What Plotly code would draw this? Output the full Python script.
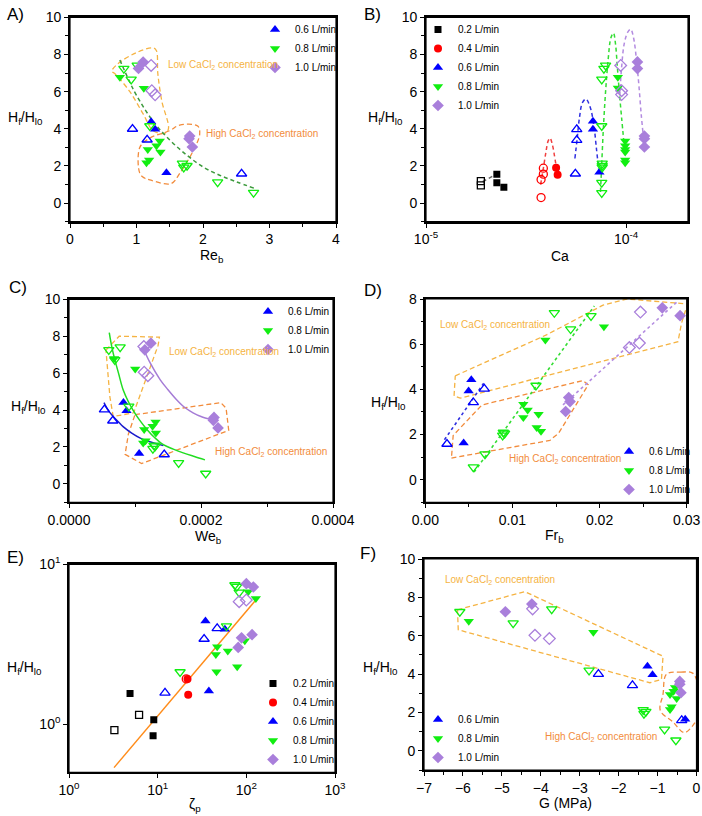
import plotly.graph_objects as go
import math

W, H = 702, 816

# ================= DATA =================
# ---- Panel A : Re_b ----
A_x_06f = [1.22, 1.28, 1.45]
A_y_06f = [4.38, 3.97, 1.63]
A_x_06o = [0.94, 1.16, 2.58]
A_y_06o = [3.99, 3.41, 1.58]
A_x_08f = [0.75, 1.11, 1.17, 1.15, 1.19, 1.30, 1.35, 1.36]
A_y_08f = [6.77, 6.18, 2.89, 2.17, 2.32, 3.09, 3.34, 2.75]
A_x_08o = [0.81, 1.01, 0.92, 1.20, 1.69, 1.71, 1.76, 2.22, 2.76]
A_y_08o = [7.24, 7.41, 6.66, 4.15, 2.14, 1.92, 2.01, 1.13, 0.56]
A_x_10f = [1.10, 1.03, 1.80, 1.79, 1.84]
A_y_10f = [7.59, 7.25, 3.61, 3.47, 3.02]
A_x_10o = [1.22, 1.23, 1.28]
A_y_10o = [7.41, 6.05, 5.83]
A_fit_x = [0.75, 0.9, 1.0, 1.25, 1.5, 1.75, 2.0, 2.25, 2.5, 2.77]
A_fit_y = [7.7, 6.5, 5.8, 4.4, 3.4, 2.6, 1.95, 1.5, 1.15, 0.8]
A_low_x = [0.63, 0.72, 1.0, 1.25, 1.3, 1.32, 1.38, 1.48, 1.42, 1.25, 1.1, 0.9, 0.68, 0.63]
A_low_y = [7.1, 7.5, 8.1, 8.35, 8.2, 7.0, 5.5, 4.0, 3.75, 3.9, 4.8, 6.0, 6.95, 7.1]
A_high_x = [1.05, 1.2, 1.5, 1.65, 1.92, 1.95, 1.85, 1.65, 1.52, 1.2, 1.12, 1.05, 1.05]
A_high_y = [3.0, 3.5, 3.9, 4.2, 4.15, 3.7, 2.8, 1.6, 1.05, 1.25, 1.35, 1.6, 3.0]

# ---- Panel B : Ca ----
B_x_02f = [2.26e-5, 2.26e-5, 2.45e-5]
B_y_02f = [1.56, 1.09, 0.85]
B_x_02o = [1.88e-5, 1.88e-5]
B_y_02o = [1.18, 0.95]
B_x_04f = [4.47e-5, 4.55e-5]
B_y_04f = [1.91, 1.52]
B_x_04o = [3.86e-5, 3.86e-5, 3.76e-5, 3.76e-5]
B_y_04o = [1.88, 1.56, 1.27, 0.30]
B_x_06f = [6.83e-5, 6.83e-5, 7.36e-5]
B_y_06f = [4.40, 3.97, 1.66]
B_x_06o = [5.67e-5, 5.67e-5, 5.58e-5]
B_y_06o = [3.97, 3.39, 1.58]
B_x_08f = [9.1e-5, 9.1e-5, 9.9e-5, 9.9e-5, 9.9e-5, 9.9e-5, 9.9e-5, 9.9e-5]
B_y_08f = [6.77, 6.19, 3.34, 3.09, 2.89, 2.75, 2.32, 2.17]
B_x_08o = [7.75e-5, 7.9e-5, 7.56e-5, 7.56e-5, 7.6e-5, 7.6e-5, 7.6e-5, 7.56e-5, 7.56e-5]
B_y_08o = [7.24, 7.41, 6.66, 4.15, 2.14, 1.92, 2.01, 1.10, 0.55]
B_x_10f = [1.14e-4, 1.14e-4, 1.235e-4, 1.235e-4, 1.235e-4]
B_y_10f = [7.60, 7.24, 3.61, 3.47, 3.02]
B_x_10o = [9.4e-5, 9.5e-5, 9.5e-5]
B_y_10o = [7.41, 6.05, 5.84]
B_fit02_x = [1.92e-5, 2.15e-5]
B_fit02_y = [1.15, 1.45]
B_fit04_x = [3.74e-5, 3.85e-5, 3.97e-5, 4.08e-5, 4.17e-5, 4.27e-5, 4.38e-5, 4.47e-5]
B_fit04_y = [1.0, 1.8, 2.7, 3.35, 3.5, 3.2, 2.6, 2.0]
B_fit06_x = [5.55e-5, 5.7e-5, 5.85e-5, 6.05e-5, 6.3e-5, 6.6e-5, 6.9e-5, 7.1e-5, 7.3e-5]
B_fit06_y = [2.4, 3.5, 4.6, 5.4, 5.6, 5.2, 4.2, 3.0, 1.8]
B_fit08_x = [7.45e-5, 7.55e-5, 7.7e-5, 7.9e-5, 8.15e-5, 8.4e-5, 8.65e-5, 8.85e-5, 9.05e-5, 9.25e-5, 9.5e-5, 9.75e-5]
B_fit08_y = [0.6, 2.0, 4.0, 6.0, 7.8, 8.9, 9.15, 8.6, 7.3, 6.0, 4.6, 3.3]
B_fit10_x = [9.3e-5, 9.5e-5, 9.8e-5, 1.02e-4, 1.055e-4, 1.09e-4, 1.13e-4, 1.16e-4, 1.19e-4, 1.22e-4]
B_fit10_y = [5.8, 7.3, 8.6, 9.2, 9.35, 8.9, 7.6, 6.3, 4.8, 3.6]

# ---- Panel C : We_b ----
C_x_06f = [8.25e-5, 8.71e-5, 1.063e-4]
C_y_06f = [4.41, 3.96, 1.64]
C_x_06o = [5.37e-5, 6.63e-5, 1.443e-4]
C_y_06o = [4.02, 3.42, 1.59]
C_x_08f = [6.84e-5, 1.003e-4, 1.139e-4, 1.124e-4, 1.16e-4, 1.266e-4, 1.311e-4, 1.316e-4]
C_y_08f = [6.79, 6.22, 2.94, 2.22, 2.34, 3.12, 3.35, 2.76]
C_x_08o = [6.03e-5, 7.75e-5, 6.94e-5, 9.06e-5, 1.286e-4, 1.271e-4, 1.306e-4, 1.661e-4, 2.071e-4]
C_y_08o = [7.26, 7.41, 6.72, 4.20, 2.09, 1.91, 2.04, 1.14, 0.56]
C_x_10f = [1.241e-4, 1.149e-4, 2.197e-4, 2.187e-4, 2.258e-4]
C_y_10f = [7.62, 7.26, 3.60, 3.44, 3.03]
C_x_10o = [1.134e-4, 1.139e-4, 1.195e-4]
C_y_10o = [7.44, 6.05, 5.86]
C_fit06_x = [5.3e-5, 6.0e-5, 6.7e-5, 7.5e-5, 8.2e-5, 9.5e-5, 1.08e-4, 1.25e-4, 1.43e-4]
C_fit06_y = [4.4, 3.95, 3.65, 3.35, 3.1, 2.75, 2.48, 2.25, 2.07]
C_fit08_x = [6.1e-5, 6.5e-5, 7.0e-5, 7.5e-5, 8.2e-5, 9.0e-5, 9.7e-5, 1.07e-4, 1.18e-4, 1.3e-4, 1.43e-4, 1.58e-4, 1.73e-4, 1.9e-4, 2.06e-4]
C_fit08_y = [8.2, 7.4, 6.65, 6.0, 5.1, 4.45, 4.0, 3.45, 2.95, 2.5, 2.12, 1.88, 1.68, 1.48, 1.3]
C_fit10_x = [1.125e-4, 1.23e-4, 1.38e-4, 1.5e-4, 1.63e-4, 1.75e-4, 1.88e-4, 2.0e-4, 2.16e-4]
C_fit10_y = [7.35, 6.55, 5.65, 5.1, 4.56, 4.15, 3.85, 3.65, 3.48]
C_low_x = [5.6e-5, 7.6e-5, 1.37e-4, 1.35e-4, 9.8e-5, 6.7e-5, 6.2e-5, 5.7e-5, 5.6e-5]
C_low_y = [7.25, 8.0, 7.95, 7.5, 3.85, 3.65, 4.7, 7.0, 7.25]
C_high_x = [1.0e-4, 2.3e-4, 2.38e-4, 2.42e-4, 1.1e-4, 8.5e-5, 9.0e-5, 1.0e-4]
C_high_y = [3.75, 4.4, 4.1, 2.9, 1.1, 1.6, 2.7, 3.75]

# ---- Panel D : Fr_b ----
D_x_06f = [0.00528, 0.00497, 0.0044]
D_y_06f = [4.42, 3.93, 1.62]
D_x_06o = [0.00677, 0.00551, 0.00249]
D_y_06o = [4.02, 3.42, 1.58]
D_x_08f = [0.01378, 0.0205, 0.01125, 0.01175, 0.01125, 0.0130, 0.01278, 0.01328]
D_y_08f = [6.19, 6.77, 3.34, 3.09, 2.75, 2.90, 2.31, 2.14]
D_x_08o = [0.01481, 0.01668, 0.01902, 0.0127, 0.00895, 0.00888, 0.0091, 0.00685, 0.00551]
D_y_08o = [7.39, 6.67, 7.25, 4.17, 2.09, 1.96, 2.05, 1.13, 0.56]
D_x_10f = [0.0272, 0.02924, 0.01646, 0.01661, 0.01611]
D_y_10f = [7.61, 7.26, 3.64, 3.46, 3.02]
D_x_10o = [0.02469, 0.02457, 0.02342]
D_y_10o = [7.42, 6.05, 5.85]
D_fit06_x = [0.0022, 0.0067]
D_fit06_y = [1.77, 4.27]
D_fit08_x = [0.0056, 0.0194]
D_fit08_y = [0.34, 7.69]
D_fit10_x = [0.0158, 0.0290]
D_fit10_y = [3.31, 7.91]
D_low_x = [0.00344, 0.0139, 0.0204, 0.0231, 0.0301, 0.0294, 0.0290, 0.0040, 0.0033, 0.00344]
D_low_y = [4.6, 6.41, 7.73, 8.0, 7.78, 6.92, 6.11, 3.61, 3.71, 4.6]
D_high_x = [0.0030, 0.0143, 0.0153, 0.0187, 0.0181, 0.0065, 0.0032, 0.0030]
D_high_y = [0.96, 1.74, 2.06, 4.2, 4.39, 3.31, 1.96, 0.96]

# ---- Panel E : zeta_p ----
E_x_02f = [4.88, 9.04, 8.88]
E_y_02f = [1.556, 1.065, 0.845]
E_x_02o = [3.25, 6.17]
E_y_02o = [0.917, 1.144]
E_x_04f = [21.7, 22.1]
E_y_04f = [1.92, 1.53]
E_x_04o = [21.0]
E_y_04o = [1.92]
E_x_06f = [34.6, 57.3, 37.8]
E_y_06f = [4.42, 3.92, 1.61]
E_x_06o = [46.9, 33.4, 12.1]
E_y_06o = [3.97, 3.41, 1.57]
E_x_08f = [105, 128, 46.9, 45.3, 61.8, 46.1, 78.9, 96.2]
E_y_08f = [6.74, 6.12, 3.05, 2.73, 2.87, 2.13, 2.29, 3.33]
E_x_08o = [74.3, 78.0, 83.0, 59.7, 17.9]
E_y_08o = [7.42, 7.24, 6.68, 4.11, 2.12]
E_x_10f = [100, 120, 88.3, 116, 81]
E_y_10f = [7.57, 7.21, 3.47, 3.63, 3.02]
E_x_10o = [100, 83]
E_y_10o = [5.98, 5.84]
E_fit_x = [3.22, 130]
E_fit_y = [0.535, 6.04]

# ---- Panel F : G (MPa) ----
F_x_06f = [-1.26, -1.13, -0.29]
F_y_06f = [4.41, 3.96, 1.64]
F_x_06o = [-2.52, -1.645, -0.38]
F_y_06o = [4.00, 3.41, 1.59]
F_x_08f = [-5.85, -2.65, -0.68, -0.68, -0.64, -0.59, -0.55, -0.51]
F_y_08f = [6.76, 6.18, 2.94, 2.16, 2.30, 3.10, 3.30, 2.73]
F_x_08o = [-6.08, -3.72, -4.71, -2.76, -1.37, -1.35, -1.30, -0.82, -0.53]
F_y_08o = [7.25, 7.39, 6.66, 4.19, 2.13, 1.94, 2.04, 1.12, 0.55]
F_x_10f = [-4.23, -4.91, -0.43, -0.43, -0.40]
F_y_10f = [7.65, 7.25, 3.62, 3.47, 3.03]
F_x_10o = [-4.21, -4.15, -3.78]
F_y_10o = [7.40, 6.02, 5.85]
F_low_x = [-6.14, -4.41, -0.86, -0.90, -1.20, -6.12, -6.14]
F_low_y = [7.35, 8.3, 4.93, 3.72, 3.55, 6.31, 7.35]
F_high_x = [-0.77, -0.40, -0.10, 0.05, 0.08, -0.10, -0.32, -0.60, -0.93, -0.86, -0.77]
F_high_y = [4.0, 4.1, 4.05, 3.3, 2.0, 1.3, 0.95, 1.5, 2.1, 2.95, 4.0]

# tick labels
B_tickvals = [1e-5, 1e-4]
B_ticktext = ["10<sup>-5</sup>", "10<sup>-4</sup>"]
E_xtickvals = [1, 10, 100, 1000]
E_xticktext = ["10<sup>0</sup>", "10<sup>1</sup>", "10<sup>2</sup>", "10<sup>3</sup>"]
E_ytickvals = [1, 10]
E_yticktext = ["10<sup>0</sup>", "10<sup>1</sup>"]

series_names = {"02": "0.2 L/min", "04": "0.4 L/min", "06": "0.6 L/min",
                "08": "0.8 L/min", "10": "1.0 L/min"}

# ================= STYLE =================
FONT = "Liberation Sans, Arial, sans-serif"
STY = {
    "02": dict(color="#000000", sym="square", size=7),
    "04": dict(color="#FF0000", sym="circle", size=8),
    "06": dict(color="#0000FF", sym="triangle-up", size=9),
    "08": dict(color="#11EE11", sym="triangle-down", size=9),
    "10": dict(color="#A97FDB", sym="diamond", size=9),
}
FIT_COL = {"02": "#666666", "04": "#F04040", "06": "#3030E0", "08": "#33DD33", "10": "#B38BE0"}
LOW_COL = "#F5B342"
HIGH_COL = "#F28C3C"

# panel plot areas in pixels: left, right, top, bottom
PX = {
    1: (70, 336, 17.3, 221.7),
    2: (426, 688, 17.3, 221.7),
    3: (69, 333, 299.3, 502.3),
    4: (425.3, 686.7, 299, 502.3),
    5: (69, 335, 564.3, 772.3),
    6: (424, 696.5, 559, 770),
}


def ax(prefix, i):
    return prefix if i == 1 else f"{prefix}{i}"


def lkey(prefix, i):
    return f"{prefix}axis" if i == 1 else f"{prefix}axis{i}"


fig = go.Figure()


def pts(i, key, x, y, filled):
    s = STY[key]
    leg = "legend" if i == 1 else f"legend{i}"
    fig.add_trace(go.Scatter(
        x=x, y=y, mode="markers", xaxis=ax("x", i), yaxis=ax("y", i),
        name=series_names[key], legend=leg, showlegend=filled,
        marker=dict(symbol=s["sym"] if filled else s["sym"] + "-open",
                    size=s["size"], color=s["color"],
                    line=dict(width=1.3 if not filled else 0, color=s["color"])),
        hoverinfo="skip"))


def line(i, x, y, color, dash, width=1.5, shape="linear"):
    fig.add_trace(go.Scatter(
        x=x, y=y, mode="lines", xaxis=ax("x", i), yaxis=ax("y", i),
        showlegend=False, line=dict(color=color, dash=dash, width=width, shape=shape),
        hoverinfo="skip"))


DASH = "5px,3px"

# Panel A
line(1, A_low_x, A_low_y, LOW_COL, DASH, 1.3, "spline")
line(1, A_high_x, A_high_y, HIGH_COL, DASH, 1.3, "spline")
line(1, A_fit_x, A_fit_y, "#3C9A3C", "4px,3px", 1.5, "spline")
for k in ["06", "08", "10"]:
    pts(1, k, globals()[f"A_x_{k}o"], globals()[f"A_y_{k}o"], False)
    pts(1, k, globals()[f"A_x_{k}f"], globals()[f"A_y_{k}f"], True)

# Panel B
for k in ["02", "04", "06", "08", "10"]:
    line(2, globals()[f"B_fit{k}_x"], globals()[f"B_fit{k}_y"], FIT_COL[k], "4px,3px", 1.5, "spline")
for k in ["02", "04", "06", "08", "10"]:
    pts(2, k, globals()[f"B_x_{k}o"], globals()[f"B_y_{k}o"], False)
    pts(2, k, globals()[f"B_x_{k}f"], globals()[f"B_y_{k}f"], True)

# Panel C
line(3, C_low_x, C_low_y, LOW_COL, DASH, 1.3, "linear")
line(3, C_high_x, C_high_y, HIGH_COL, DASH, 1.3, "linear")
for k, col in [("06", "#1A1ACC"), ("08", "#22DD22"), ("10", "#A57CD6")]:
    line(3, globals()[f"C_fit{k}_x"], globals()[f"C_fit{k}_y"], col, "solid", 1.5, "spline")
for k in ["06", "08", "10"]:
    pts(3, k, globals()[f"C_x_{k}o"], globals()[f"C_y_{k}o"], False)
    pts(3, k, globals()[f"C_x_{k}f"], globals()[f"C_y_{k}f"], True)

# Panel D
line(4, D_low_x, D_low_y, LOW_COL, DASH, 1.3, "linear")
line(4, D_high_x, D_high_y, HIGH_COL, DASH, 1.3, "linear")
for k in ["06", "08", "10"]:
    line(4, globals()[f"D_fit{k}_x"], globals()[f"D_fit{k}_y"], FIT_COL[k], "dot", 1.6)
for k in ["06", "08", "10"]:
    pts(4, k, globals()[f"D_x_{k}o"], globals()[f"D_y_{k}o"], False)
    pts(4, k, globals()[f"D_x_{k}f"], globals()[f"D_y_{k}f"], True)

# Panel E
line(5, E_fit_x, E_fit_y, "#FF8C1A", "solid", 1.4)
for k in ["02", "04", "06", "08", "10"]:
    pts(5, k, globals()[f"E_x_{k}o"], globals()[f"E_y_{k}o"], False)
    pts(5, k, globals()[f"E_x_{k}f"], globals()[f"E_y_{k}f"], True)

# Panel F
line(6, F_low_x, F_low_y, LOW_COL, DASH, 1.3, "linear")
line(6, F_high_x, F_high_y, HIGH_COL, DASH, 1.3, "spline")
for k in ["06", "08", "10"]:
    pts(6, k, globals()[f"F_x_{k}o"], globals()[f"F_y_{k}o"], False)
    pts(6, k, globals()[f"F_x_{k}f"], globals()[f"F_y_{k}f"], True)

# ================= AXES =================
XCFG = {
    1: dict(type="linear", range=[0, 4], dtick=1, minor_dtick=0.5),
    2: dict(type="log", range=[-5, math.log10(2.04e-4)], tickvals=B_tickvals, ticktext=B_ticktext),
    3: dict(type="linear", range=[0, 0.0004], dtick=0.0002, minor_dtick=0.0001, tickformat=".4f"),
    4: dict(type="linear", range=[0, 0.03], dtick=0.01, minor_dtick=0.005, tickformat=".2f"),
    5: dict(type="log", range=[0, 3], tickvals=E_xtickvals, ticktext=E_xticktext),
    6: dict(type="linear", range=[-7, 0], dtick=1, minor_dtick=0.5),
}
YCFG = {
    1: dict(type="linear", range=[-1, 10], dtick=2, minor_dtick=1),
    2: dict(type="linear", range=[-1, 10], dtick=2, minor_dtick=1),
    3: dict(type="linear", range=[-1, 10], dtick=2, minor_dtick=1),
    4: dict(type="linear", range=[-1, 8], dtick=2, minor_dtick=1),
    5: dict(type="log", range=[math.log10(0.5), 1], tickvals=E_ytickvals, ticktext=E_yticktext),
    6: dict(type="linear", range=[-1, 10], dtick=2, minor_dtick=1),
}


def axis_dict(cfg):
    d = dict(type=cfg["type"], range=cfg["range"], showgrid=False, zeroline=False,
             showline=True, mirror=True, linecolor="black", linewidth=1.6,
             ticks="outside", ticklen=4, tickcolor="black", tickwidth=1.4,
             tickfont=dict(family=FONT, size=14, color="black"), fixedrange=True)
    if "tickvals" in cfg:
        d.update(tickmode="array", tickvals=cfg["tickvals"], ticktext=cfg["ticktext"])
    else:
        d.update(tick0=0, dtick=cfg["dtick"])
        d["minor"] = dict(ticks="outside", ticklen=3, dtick=cfg["minor_dtick"])
    if "tickformat" in cfg:
        d["tickformat"] = cfg["tickformat"]
    return d


layout_axes = {}
for i in range(1, 7):
    l, r, t, b = PX[i]
    xm = axis_dict(XCFG[i])
    xm.update(domain=[l / W, r / W], anchor=ax("y", i))
    ym = axis_dict(YCFG[i])
    ym.update(domain=[1 - b / H, 1 - t / H], anchor=ax("x", i))
    layout_axes[lkey("x", i)] = xm
    layout_axes[lkey("y", i)] = ym
fig.update_layout(**layout_axes)

# frame of each panel (outline on the subplot domain)
for i in range(1, 7):
    fig.add_shape(type="rect", xref=ax("x", i) + " domain", yref=ax("y", i) + " domain",
                  x0=0, x1=1, y0=0, y1=1, line=dict(color="black", width=1.2), layer="above")

# ================= LEGENDS =================
LEG = {
    1: dict(x=255 / W, y=1 - 15 / H, yanchor="top"),
    2: dict(x=418 / W, y=1 - 15 / H, yanchor="top"),
    3: dict(x=248 / W, y=1 - 297 / H, yanchor="top"),
    4: dict(x=609 / W, y=1 - 504 / H, yanchor="bottom"),
    5: dict(x=253 / W, y=1 - 774 / H, yanchor="bottom"),
    6: dict(x=418 / W, y=1 - 772 / H, yanchor="bottom"),
}
for i in range(1, 7):
    key = "legend" if i == 1 else f"legend{i}"
    cfg = dict(xanchor="left", bgcolor="rgba(0,0,0,0)", borderwidth=0,
               font=dict(family=FONT, size=10, color="black"),
               itemwidth=30, tracegroupgap=0, xref="paper", yref="paper")
    cfg.update(LEG[i])
    fig.update_layout(**{key: cfg})

# ================= TEXT =================
ann = []


def text(px, py, s, size=14, color="black", xanchor="center"):
    ann.append(dict(x=px / W, y=1 - py / H, xref="paper", yref="paper", text=s,
                    showarrow=False, xanchor=xanchor, yanchor="middle",
                    font=dict(family=FONT, size=size, color=color)))


for lbl, (px, py) in zip("ABCDEF", [(5, 14), (362, 14), (7, 287), (362, 290), (5, 557), (358, 553)]):
    text(px, py, lbl + ")", 17, xanchor="left")

YT = "H<sub>f</sub>/H<sub>l0</sub>"
for px, py in [(25, 118), (385, 118), (29, 407), (388, 403), (24, 668), (381, 668)]:
    text(px, py, YT, 14)

text(212, 256, "Re<sub>b</sub>", 14)
text(560, 256, "Ca", 14)
text(208, 537, "We<sub>b</sub>", 14)
text(554, 536, "Fr<sub>b</sub>", 14)
text(195, 805, "ζ<sub>p</sub>", 14)
text(565, 803, "G (MPa)", 14)

LOWT = "Low CaCl<sub>2</sub> concentration"
HIGHT = "High CaCl<sub>2</sub> concentration"
text(166, 65, LOWT, 10, LOW_COL, "left")
text(204, 134, HIGHT, 10, HIGH_COL, "left")
text(167, 352, LOWT, 10, LOW_COL, "left")
text(213, 452, HIGHT, 10, HIGH_COL, "left")
text(438, 325, LOWT, 10, LOW_COL, "left")
text(507, 459, HIGHT, 10, HIGH_COL, "left")
text(443, 580, LOWT, 10, LOW_COL, "left")
text(543, 737, HIGHT, 10, HIGH_COL, "left")

fig.update_layout(
    annotations=ann,
    width=W, height=H,
    margin=dict(l=0, r=0, t=0, b=0, pad=0, autoexpand=False),
    paper_bgcolor="white", plot_bgcolor="white",
    font=dict(family=FONT, size=12, color="black"),
)

fig.write_html("out.html", post_script="document.body.style.margin='0px';",
               config={"displayModeBar": False})
